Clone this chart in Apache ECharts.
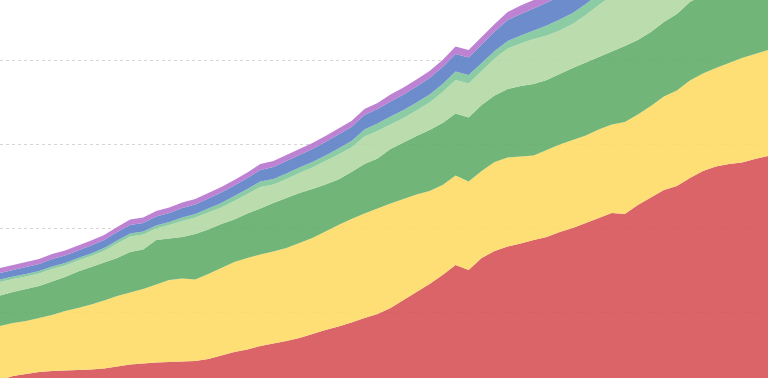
<!DOCTYPE html>
<html>
<head>
<meta charset="utf-8">
<script src="https://cdn.jsdelivr.net/npm/echarts@6/dist/echarts.min.js"></script>
<style>
html,body{margin:0;padding:0;background:#fff;}
#chart{width:768px;height:378px;}
</style>
</head>
<body>
<div id="chart"></div>
<script>
// 60 periods
var categories = [];
for (var k = 0; k < 60; k++) { categories.push(String(k + 1)); }

var seriesNames = ['S1', 'S2', 'S3', 'S4', 'S5', 'S6', 'S7'];

var s1 = [16,20,22,24,25,25.5,26,26.5,27.5,29.5,
  31.5,32.5,33.5,34,34.5,35,37,40.5,44,46.5,
  50,52.5,55,58,62,66,69.5,73.5,78,82,
  88,96,104,112,121,131,126,138,145,149.5,
  152.5,156,159,164,168,173,178,183,182,191,
  198.5,206,210,218,225,229.5,232,233.5,237,240];

var s2 = [54,53,53,54,56,59.5,62,65,68,70.5,
  72,74.5,78,82,83,81.5,85,87.5,90,91.5,
  91.5,92,93,95,96,98.5,101.5,103.5,104.5,105.5,
  104.5,101,97.5,93,90,89.5,88.5,87,89,89,
  87,84.5,87,87.5,88,87.5,88.5,88.5,92,90.5,
  91.5,93.5,95.5,97.5,97.5,98.5,101,104.5,105,106];

var s3 = [30.5,31,32,32,33.5,34,36.5,37.5,38,38,
  40.5,39.5,44.5,41.5,41.5,45.5,44.5,44,42.5,44.5,
  46,48.5,50,50,49,47,45.5,47,49.5,50,
  54.5,56.5,58.5,61,62,62,64,66,66.5,68.5,
  70.5,71.5,70,70.5,72,73,72.5,73,76,74.5,
  74,74.5,76.5,78.5,78.5,79,80,80,81,82];

var s4 = [13.5,13,12.5,12.5,12.5,11.5,11,11,11.5,14.5,
  15.5,15,11.5,13.5,16,16.5,17,16.5,18.5,19.5,
  21.5,18.5,19,20,21.5,23.5,25,24.5,27.5,27.5,
  24.5,24.5,25.5,27.5,31,33.5,34,34,37,40.5,
  42.5,45,44.5,43.5,44,47.5,52,55.5,56,57,
  58,59,59,60,60.5,61,61.5,62,62.5,63];

var s5 = [2.5,2.5,2.5,2.5,2.5,2.5,2.5,2.5,3,3,
  3,3,3,3,3.5,3.5,4,4.5,5,5,
  5.5,5.5,5.5,5.5,5.5,5.5,6,6.5,7,7.5,
  8,8,8,8,8,8.5,8.5,8,7.5,7.5,
  8,8.5,10,11,11,11,11,11,11,11,
  11,11,11.5,11.5,11.5,11.5,12,12,12,12];

var s6 = [6.5,6.5,7,7,7.5,7.5,7.5,8,8,8.5,
  8.5,8.5,9,9,9.5,9.5,10,10.5,10.5,11,
  11.5,12,12.5,12.5,13,13.5,14,14,14.5,14.5,
  15,15.5,16,16.5,17,17.5,17.5,18.5,19.5,21,
  21.5,22,23,23,23.5,22,23,24,24,24.5,
  25,25,25.5,26,26,26.5,27,27,27.5,28];

var s7 = [5,5,5,5,5,5,5,5,5,5,
  5.5,5.5,5.5,5.5,5.5,5.5,5.5,5.5,5.5,5.5,
  6,6,6,6,6,6,6,6,6,6,
  7,7,7,7,7,7.5,7.5,7.5,7.5,8,
  8.5,8.5,8.5,8.5,8.5,9,9,9,9.5,9.5,
  9.5,9.5,10,10,10,10,10.5,10.5,10.5,11];

var yTicks = [0, 84, 168, 252, 336, 420];

var colors = ['#d65357', '#fedb67', '#62ae69', '#b4d8a3', '#7fc69a', '#5c7fc6', '#b774cd'];
var allData = [s1, s2, s3, s4, s5, s6, s7];

var chart = echarts.init(document.getElementById('chart'), null, {renderer: 'canvas'});

var series = allData.map(function (d, i) {
  return {
    name: seriesNames[i],
    type: 'line',
    stack: 'total',
    data: d,
    symbol: 'none',
    showSymbol: false,
    smooth: false,
    lineStyle: {width: 0, opacity: 0},
    areaStyle: {color: colors[i], opacity: 0.9},
    itemStyle: {color: colors[i]},
    emphasis: {disabled: true}
  };
});

chart.setOption({
  animation: false,
  backgroundColor: '#ffffff',
  grid: {left: 0, right: 0, top: -24, height: 420, containLabel: false, outerBoundsMode: 'none'},
  xAxis: {
    type: 'category',
    data: categories,
    boundaryGap: false,
    show: false
  },
  yAxis: {
    type: 'value',
    min: yTicks[0],
    max: yTicks[yTicks.length - 1],
    interval: yTicks[1] - yTicks[0],
    axisLine: {show: false},
    axisTick: {show: false},
    axisLabel: {show: false},
    splitLine: {show: true, lineStyle: {color: '#d6d6d6', type: [3, 3], width: 1}}
  },
  series: series
});
</script>
</body>
</html>
